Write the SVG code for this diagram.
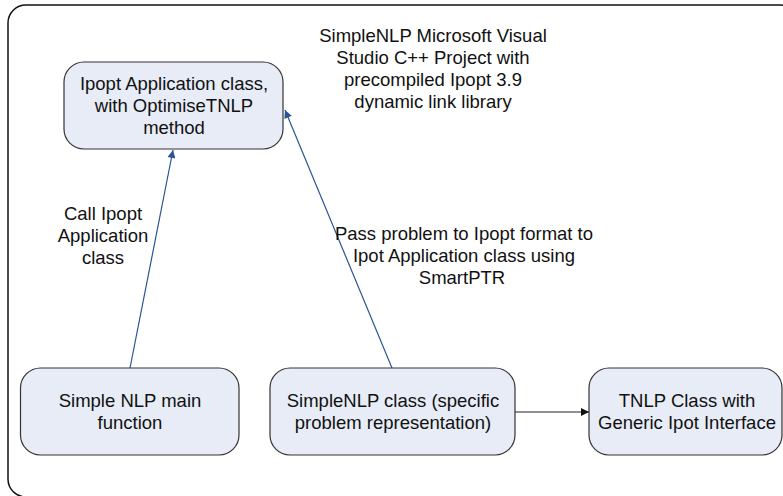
<svg xmlns="http://www.w3.org/2000/svg" width="783" height="496" viewBox="0 0 783 496">
<defs>
<style>
text{font-family:"Liberation Sans",Arial,sans-serif;font-size:18.5px;fill:#111;text-anchor:middle}
.node{fill:#e7ecf6;stroke:#333;stroke-width:1.2}
.blue{stroke:#2a5592;stroke-width:1.2;fill:none}
.black{stroke:#222;stroke-width:1.2;fill:none}
</style>
<marker id="ab" viewBox="0 0 10 10" refX="10" refY="5" markerWidth="10" markerHeight="8" markerUnits="userSpaceOnUse" orient="auto">
<path d="M0,0 L10,5 L0,10 z" fill="#2a5592"/>
</marker>
<marker id="ak" viewBox="0 0 10 10" refX="10" refY="5" markerWidth="10" markerHeight="8" markerUnits="userSpaceOnUse" orient="auto">
<path d="M0,0 L10,5 L0,10 z" fill="#111"/>
</marker>
</defs>
<rect x="0" y="0" width="783" height="496" fill="#fff"/>
<g id="frame">
<rect x="8" y="5" width="790" height="492" rx="18" fill="none" stroke="#111" stroke-width="1.5"/>
<text x="433" y="42">SimpleNLP Microsoft Visual</text>
<text x="433" y="64">Studio C++ Project with</text>
<text x="433" y="86">precompiled Ipopt 3.9</text>
<text x="433" y="108">dynamic link library</text>
</g>
<g id="connectors">
<line class="blue" x1="130" y1="368" x2="173" y2="150" marker-end="url(#ab)"/>
<line class="blue" x1="392" y1="368" x2="285" y2="110" marker-end="url(#ab)"/>
<line class="black" x1="515" y1="412" x2="589" y2="412" marker-end="url(#ak)"/>
<text x="103" y="220">Call Ipopt</text>
<text x="103" y="242">Application</text>
<text x="103" y="264">class</text>
<text x="464" y="240">Pass problem to Ipopt format to</text>
<text x="464" y="262">Ipot Application class using</text>
<text x="462" y="284">SmartPTR</text>
</g>
<g id="ipopt">
<rect class="node" x="64" y="62" width="219" height="87" rx="20"/>
<text x="174" y="90">Ipopt Application class,</text>
<text x="174" y="112">with OptimiseTNLP</text>
<text x="174" y="134">method</text>
</g>
<g id="main">
<rect class="node" x="20.5" y="368" width="218.5" height="87" rx="20"/>
<text x="130" y="407">Simple NLP main</text>
<text x="130" y="429">function</text>
</g>
<g id="simplenlp">
<rect class="node" x="270" y="368" width="245" height="87" rx="20"/>
<text x="393" y="407">SimpleNLP class (specific</text>
<text x="393" y="429">problem representation)</text>
</g>
<g id="tnlp">
<rect class="node" x="589" y="368" width="193" height="87" rx="20"/>
<text x="687" y="407">TNLP Class with</text>
<text x="687" y="429">Generic Ipot Interface</text>
</g>
</svg>
